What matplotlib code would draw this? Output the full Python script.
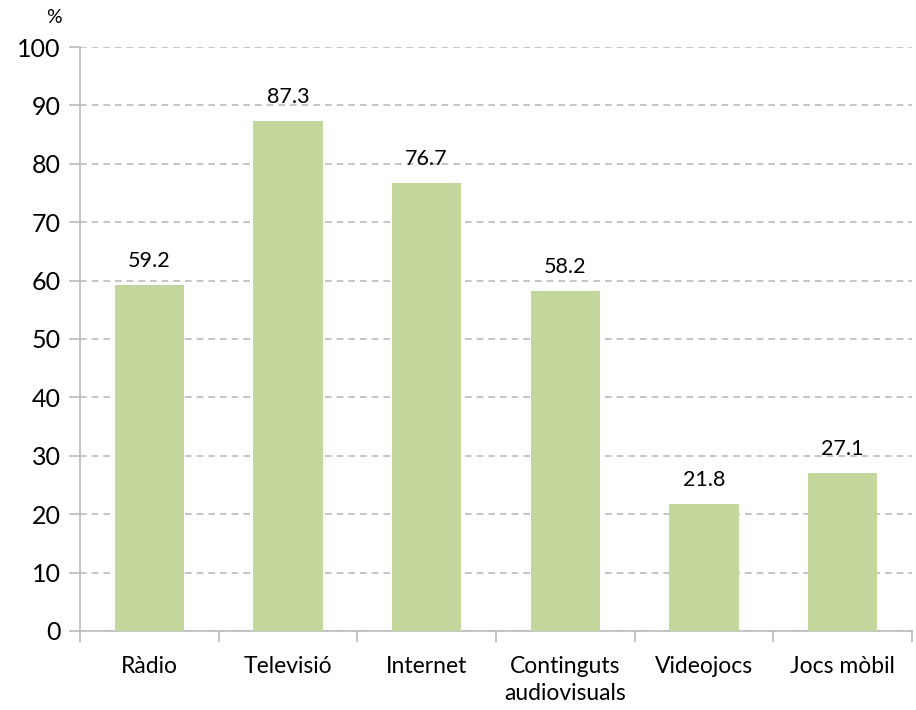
import numpy as np
import matplotlib.pyplot as plt

plt.rcParams['font.family'] = ['Lato', 'DejaVu Sans']

categories = ['Ràdio', 'Televisió', 'Internet', 'Continguts\naudiovisuals', 'Videojocs', 'Jocs mòbil']
values = [59.2, 87.3, 76.7, 58.2, 21.8, 27.1]
yticks = [0, 10, 20, 30, 40, 50, 60, 70, 80, 90, 100]

fig = plt.figure(figsize=(9.16, 7.10), dpi=100)
ax = fig.add_axes([0.0873, 0.1113, 0.9083, 0.8225])

x = np.arange(len(categories))
ax.bar(x, values, width=0.5, color='#C3D69B', zorder=3)
for xi, v in zip(x, values):
    ax.text(xi, v + 2.4, '%.1f' % v, ha='center', va='bottom', fontsize=15.5, color='#000000')

ax.set_xlim(-0.5, len(categories) - 0.5)
ax.set_ylim(0, 100)
ax.set_yticks(yticks)
ax.set_yticklabels([str(t) for t in yticks], fontsize=18)
ax.yaxis.grid(True, color='#BBBBBB', linestyle=(0, (4, 3)), linewidth=1.2, zorder=0)

# category labels centered, tick marks between categories
ax.set_xticks(x)
ax.set_xticklabels(categories, fontsize=16.5, linespacing=1.35)
ax.tick_params(axis='x', length=0, pad=18)
ax.set_xticks(np.arange(-0.5, len(categories)), minor=True)
ax.tick_params(axis='x', which='minor', length=8, color='#BBBBBB', width=1.2)
ax.tick_params(axis='y', length=8, color='#BBBBBB', width=1.2, pad=6)

for s in ['top', 'right']:
    ax.spines[s].set_visible(False)
for s in ['left', 'bottom']:
    ax.spines[s].set_color('#BBBBBB')
    ax.spines[s].set_linewidth(1.2)

fig.text(0.059, 0.976, '%', fontsize=14, ha='center', va='center')

fig.savefig('out.png', dpi=100)
